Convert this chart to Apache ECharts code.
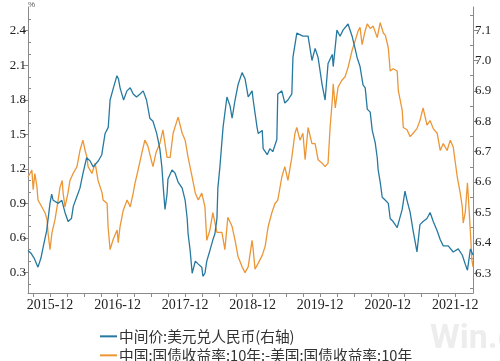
<!DOCTYPE html>
<html>
<head>
<meta charset="utf-8">
<script src="https://cdn.jsdelivr.net/npm/echarts@6/dist/echarts.min.js"></script>
<style>
html,body{margin:0;padding:0;background:#fff;}
#c{width:500px;height:361px;}
</style>
</head>
<body>
<div id="c"></div>
<script>
// ---- data ----
var seriesNames = ['中间价:美元兑人民币(右轴)', '中国:国债收益率:10年:-美国:国债收益率:10年'];

var blueDates = ['2015-08-04','2015-08-20','2015-09-06','2015-09-27','2015-10-13','2015-10-25','2015-11-13','2015-12-01','2015-12-10','2015-12-18',
'2016-01-15','2016-02-03','2016-02-20','2016-03-08','2016-03-26','2016-04-05','2016-04-23','2016-05-11','2016-05-28','2016-06-16',
'2016-07-04','2016-07-22','2016-08-19','2016-09-06','2016-09-24','2016-10-11','2016-10-21','2016-11-08','2016-11-27','2016-12-05',
'2016-12-14','2017-01-02','2017-01-20','2017-02-07','2017-02-23','2017-03-13','2017-04-01','2017-04-18','2017-05-06','2017-05-24',
'2017-06-10','2017-06-30','2017-07-17','2017-07-28','2017-08-05','2017-08-14','2017-08-25','2017-08-30','2017-09-21','2017-10-07',
'2017-10-24','2017-11-15','2017-12-01','2017-12-12','2017-12-17','2017-12-28','2018-01-08','2018-01-25','2018-02-10','2018-03-01',
'2018-03-07','2018-03-18','2018-03-28','2018-04-14','2018-04-30','2018-05-11','2018-05-22','2018-05-27','2018-06-07','2018-06-24',
'2018-07-15','2018-08-01','2018-08-12','2018-08-28','2018-09-13','2018-10-05','2018-10-21','2018-11-07','2018-11-18','2018-11-28',
'2018-12-04','2018-12-25','2018-12-31','2019-01-22','2019-01-27','2019-02-18','2019-03-04','2019-03-20','2019-04-11','2019-04-16',
'2019-05-08','2019-05-24','2019-06-10','2019-07-01','2019-07-07','2019-07-28','2019-08-30','2019-09-27','2019-10-18','2019-11-04',
'2019-11-20','2019-12-12','2019-12-28','2020-01-13','2020-02-05','2020-02-10','2020-03-01','2020-03-18','2020-04-03','2020-04-30',
'2020-05-22','2020-06-07','2020-06-18','2020-07-04','2020-07-20','2020-08-01','2020-08-12','2020-08-28','2020-09-08','2020-09-24',
'2020-10-05','2020-10-10','2020-10-21','2020-11-01','2020-11-18','2020-12-04','2020-12-14','2020-12-30','2021-01-21','2021-02-17',
'2021-03-04','2021-03-15','2021-04-01','2021-04-17','2021-05-08','2021-05-24','2021-06-10','2021-07-01','2021-07-18','2021-08-04',
'2021-08-25','2021-09-11','2021-09-27','2021-10-24','2021-11-20','2021-12-17','2022-01-08','2022-01-24','2022-02-05','2022-02-21',
'2022-03-07'];
var blueValues = [6.375,6.366,6.35,6.32,6.35,6.386,6.44,6.53,6.56,6.54,
6.53,6.54,6.50,6.47,6.48,6.52,6.55,6.58,6.63,6.68,
6.67,6.65,6.67,6.69,6.76,6.78,6.87,6.91,6.95,6.94,
6.91,6.87,6.90,6.91,6.89,6.88,6.89,6.90,6.87,6.81,
6.80,6.76,6.71,6.65,6.58,6.51,6.56,6.61,6.64,6.63,
6.60,6.58,6.54,6.48,6.43,6.375,6.30,6.34,6.33,6.32,
6.29,6.30,6.34,6.375,6.41,6.43,6.48,6.58,6.65,6.78,
6.88,6.85,6.81,6.87,6.92,6.96,6.94,6.88,6.89,6.90,
6.87,6.78,6.76,6.77,6.71,6.69,6.71,6.70,6.74,6.89,
6.90,6.86,6.87,6.89,7.01,7.09,7.08,7.08,7.00,7.04,
7.01,6.92,6.87,6.99,7.02,6.98,7.10,7.08,7.10,7.12,
7.08,7.04,7.01,6.98,6.92,6.91,6.84,6.83,6.77,6.73,
6.68,6.64,6.60,6.55,6.54,6.53,6.48,6.47,6.45,6.51,
6.57,6.54,6.50,6.44,6.37,6.46,6.47,6.48,6.50,6.47,
6.44,6.41,6.39,6.39,6.37,6.38,6.36,6.33,6.31,6.38,
6.36];

var orangeDates = ['2015-08-04','2015-08-25','2015-09-01','2015-09-10','2015-09-21','2015-09-27','2015-10-18','2015-11-04','2015-11-15','2015-11-20',
'2015-12-01','2015-12-12','2015-12-28','2016-01-14','2016-01-24','2016-02-05','2016-02-10','2016-02-20','2016-03-07','2016-03-18',
'2016-04-04','2016-04-25','2016-05-11','2016-05-27','2016-06-08','2016-06-18','2016-06-24','2016-07-15','2016-08-01','2016-08-17',
'2016-09-08','2016-09-13','2016-10-05','2016-10-10','2016-10-21','2016-11-07','2016-11-28','2016-12-04','2016-12-14','2016-12-31',
'2017-01-21','2017-02-07','2017-02-23','2017-03-04','2017-03-20','2017-04-11','2017-04-27','2017-05-13','2017-06-05','2017-06-10',
'2017-06-26','2017-07-17','2017-08-03','2017-08-25','2017-09-11','2017-09-27','2017-10-18','2017-10-24','2017-11-15','2017-12-01',
'2017-12-17','2018-01-08','2018-01-25','2018-02-10','2018-03-01','2018-03-18','2018-03-28','2018-04-14','2018-04-30','2018-05-22',
'2018-06-18','2018-07-04','2018-07-20','2018-08-12','2018-08-28','2018-09-13','2018-10-05','2018-10-21','2018-11-07','2018-11-28',
'2018-12-04','2018-12-14','2018-12-31','2019-01-22','2019-02-07','2019-02-23','2019-03-15','2019-04-01','2019-04-16','2019-05-08',
'2019-05-24','2019-06-10','2019-07-01','2019-07-18','2019-07-28','2019-08-14','2019-08-30','2019-09-11','2019-09-27','2019-10-18',
'2019-11-04','2019-11-20','2019-12-12','2019-12-28','2020-01-13','2020-01-24','2020-02-05','2020-02-10','2020-02-21','2020-03-07',
'2020-03-28','2020-04-14','2020-04-30','2020-05-22','2020-06-07','2020-06-24','2020-07-04','2020-07-15','2020-08-01','2020-08-12',
'2020-08-28','2020-09-13','2020-10-05','2020-10-21','2020-11-07','2020-11-18','2020-12-04','2020-12-14','2020-12-30','2021-01-21',
'2021-01-27','2021-02-17','2021-02-23','2021-03-15','2021-04-01','2021-04-17','2021-05-08','2021-05-24','2021-06-10','2021-07-01',
'2021-07-18','2021-08-04','2021-08-25','2021-09-11','2021-09-27','2021-10-18','2021-11-04','2021-11-20','2021-12-12','2021-12-28',
'2022-01-08','2022-01-13','2022-01-24','2022-02-05','2022-02-10','2022-02-21','2022-03-01','2022-03-07'];
var orangeValues = [1.13,1.19,1.02,1.16,1.05,0.93,0.87,0.82,0.76,0.65,
0.50,0.65,0.76,0.93,1.04,1.10,0.99,0.87,0.99,1.10,
1.16,1.22,1.36,1.45,1.36,1.30,1.22,1.16,1.25,1.10,
0.99,0.93,0.90,0.70,0.50,0.59,0.67,0.56,0.70,0.84,
0.93,0.87,0.99,1.07,1.18,1.34,1.45,1.40,1.25,1.22,
1.34,1.42,1.54,1.30,1.30,1.51,1.62,1.65,1.51,1.45,
1.30,1.13,0.99,0.93,0.99,0.87,0.58,0.67,0.82,0.65,
0.65,0.50,0.78,0.70,0.58,0.44,0.35,0.30,0.35,0.58,
0.50,0.33,0.38,0.45,0.53,0.70,0.82,0.90,0.93,1.13,
1.22,1.10,1.30,1.51,1.56,1.45,1.51,1.28,1.56,1.42,
1.42,1.28,1.25,1.22,1.25,1.56,1.80,1.94,1.73,1.91,
1.97,2.00,2.08,2.23,2.31,2.40,2.43,2.28,2.40,2.46,
2.42,2.44,2.34,2.47,2.38,2.36,2.25,2.05,2.07,2.05,
1.88,1.71,1.56,1.54,1.48,1.51,1.55,1.62,1.73,1.58,
1.62,1.55,1.51,1.36,1.42,1.36,1.45,1.39,1.13,0.99,
0.87,0.73,0.82,1.08,0.95,0.65,0.41,0.35];

var xTickLabels = ['2015-12','2016-12','2017-12','2018-12','2019-12','2020-12','2021-12'];
var leftTickLabels = [0.3,0.6,0.9,1.2,1.5,1.8,2.1,2.4];
var rightTickLabels = [6.3,6.4,6.5,6.6,6.7,6.8,6.9,7.0,7.1];

// ---- build ----
function ts(s){ var p=s.split('-'); return Date.UTC(+p[0], +p[1]-1, p[2]?+p[2]:1); }
function pairs(d,v){ return d.map(function(x,i){ return [ts(x), v[i]]; }); }

var xLabelVals = xTickLabels.map(ts);
var xTickVals = [];
for (var y=2015; y<=2021; y++){
  [3,6,9,12].forEach(function(m){
    var t = Date.UTC(y, m-1, 1);
    if (t >= ts('2015-09-01') && t <= ts('2021-12-01')) xTickVals.push(t);
  });
}
var leftMinor = [], rightMinor = [];
for (var i=2;i<=25;i++){ if (i%3!==0) leftMinor.push(i/10); }
for (var j=625;j<=715;j+=10){ rightMinor.push(j/100); }

var axisColor = '#8a8a8a';
var serif = 'Liberation Serif, Times New Roman, serif';
var BLUE = '#2779a0', ORANGE = '#ec9636';

function legendFor(idx, top, color){
  return {
    orient:'horizontal', left:95, top:top, itemGap:0,
    itemWidth:17, itemHeight:2, icon:'rect', selectedMode:false,
    textStyle:{fontFamily:'Noto Sans CJK SC', fontSize:14.7, color:'#333', padding:[0,0,0,-3]},
    data:[{name:seriesNames[idx], itemStyle:{color:color}}]
  };
}

var chart = echarts.init(document.getElementById('c'), null, {renderer:'canvas'});
chart.setOption({
  animation:false,
  backgroundColor:'#fff',
  grid:{left:28, right:27, top:7, bottom:68, containLabel:false, outerBoundsMode:'none'},
  legend:[legendFor(0, 324, BLUE), legendFor(1, 343, ORANGE)],
  xAxis:{
    type:'value', min:ts('2015-08-04'), max:ts('2022-03-07'), scale:true,
    axisLine:{show:true, onZero:false, lineStyle:{color:axisColor, width:1}},
    axisTick:{show:true, length:4, customValues:xTickVals, lineStyle:{color:axisColor}},
    axisLabel:{customValues:xLabelVals, margin:5, fontFamily:serif, fontSize:14, color:'#222',
      formatter:function(v){ var d=new Date(v); var m=d.getUTCMonth()+1; return d.getUTCFullYear()+'-'+(m<10?'0'+m:m); }},
    splitLine:{show:false}, minorTick:{show:false}
  },
  yAxis:[
    {type:'value', position:'left', min:0.123, max:2.606,
     name:'%', nameLocation:'end', nameGap:-2,
     nameTextStyle:{fontSize:8, color:'#555', align:'left', padding:[0,0,0,0]},
     axisLine:{show:true, onZero:false, lineStyle:{color:axisColor}},
     axisTick:{show:true, length:5, customValues:leftTickLabels, lineStyle:{color:axisColor}},
     axisLabel:{customValues:leftTickLabels, margin:2, fontFamily:serif, fontSize:13, color:'#222',
       formatter:function(v){ return v.toFixed(1); }},
     splitLine:{show:false}},
    {type:'value', position:'right', min:6.235, max:7.176,
     axisLine:{show:true, onZero:false, lineStyle:{color:axisColor}},
     axisTick:{show:true, length:5, customValues:rightTickLabels, lineStyle:{color:axisColor}},
     axisLabel:{customValues:rightTickLabels, margin:2, fontFamily:serif, fontSize:13, color:'#222',
       formatter:function(v){ return v.toFixed(1); }},
     splitLine:{show:false}},
    {type:'value', position:'left', min:0.123, max:2.606,
     axisLine:{show:false}, axisLabel:{show:false}, splitLine:{show:false},
     axisTick:{show:true, inside:true, length:3, customValues:leftMinor, lineStyle:{color:axisColor}}},
    {type:'value', position:'right', min:6.235, max:7.176,
     axisLine:{show:false}, axisLabel:{show:false}, splitLine:{show:false},
     axisTick:{show:true, inside:true, length:3, customValues:rightMinor, lineStyle:{color:axisColor}}}
  ],
  graphic:[
    {type:'text', left:430, top:322, silent:true, z:-10,
     style:{text:'Win.d', font:'bold 34px Roboto, sans-serif', fill:'#ededed'}}
  ],
  series:[
    {name:seriesNames[0], type:'line', yAxisIndex:1, showSymbol:false, symbol:'none',
     lineStyle:{color:BLUE, width:1.3}, itemStyle:{color:BLUE}, z:3,
     data:pairs(blueDates, blueValues)},
    {name:seriesNames[1], type:'line', yAxisIndex:0, showSymbol:false, symbol:'none',
     lineStyle:{color:ORANGE, width:1.3}, itemStyle:{color:ORANGE}, z:2,
     data:pairs(orangeDates, orangeValues)}
  ]
});
</script>
</body>
</html>
